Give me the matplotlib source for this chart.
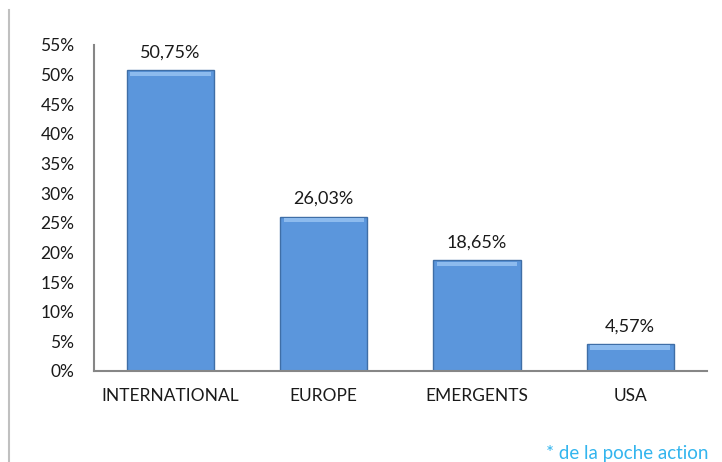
import matplotlib.pyplot as plt
from matplotlib.lines import Line2D

# Répartition géographique (de la poche action)
categories = ['INTERNATIONAL', 'EUROPE', 'EMERGENTS', 'USA']
valeurs = [50.75, 26.03, 18.65, 4.57]
etiquettes = ['50,75%', '26,03%', '18,65%', '4,57%']
graduations = list(range(0, 56, 5))

plt.rcParams['font.family'] = ['Lato', 'DejaVu Sans']

fig = plt.figure(figsize=(7.22, 4.62), dpi=100)
ax = fig.add_axes([0.130, 0.197, 0.849, 0.706])

x = range(len(categories))
bars = ax.bar(x, valeurs, width=0.57, color='#5b96dc', edgecolor='#3f6ea6',
              linewidth=1.0, zorder=2)
# petit reflet en haut des barres
for b in bars:
    ax.bar(b.get_x() + b.get_width() / 2, 0.7, width=b.get_width() * 0.92,
           bottom=b.get_height() - 0.95, color='#8dbbee', linewidth=0, zorder=3)

for xi, v, txt in zip(x, valeurs, etiquettes):
    ax.annotate(txt, (xi, v), xytext=(0, 7), textcoords='offset points',
                ha='center', va='bottom', fontsize=13, color='#1a1a1a')

ax.set_xlim(-0.5, len(categories) - 0.5)
ax.set_ylim(0, 55)
ax.set_xticks(list(x))
ax.set_xticklabels(categories, fontsize=12.5)
ax.set_yticks(graduations)
ax.set_yticklabels([f'{g}%' for g in graduations], fontsize=12.5)
ax.tick_params(length=0, colors='#1a1a1a')
ax.tick_params(axis='y', pad=14)
ax.tick_params(axis='x', pad=12)

for s in ['top', 'right']:
    ax.spines[s].set_visible(False)
for s in ['left', 'bottom']:
    ax.spines[s].set_color('#868686')
    ax.spines[s].set_linewidth(1.5)

# bordure gauche du cadre
fig.add_artist(Line2D([9 / 722, 9 / 722], [0, 1 - 10 / 462],
                      color='#c0c0c0', linewidth=1.5))

fig.text(708 / 722, 1 - 453 / 462, '* de la poche action', ha='right', va='center',
         fontsize=13.5, color='#33b5ee')

fig.savefig('out.png', dpi=100)
